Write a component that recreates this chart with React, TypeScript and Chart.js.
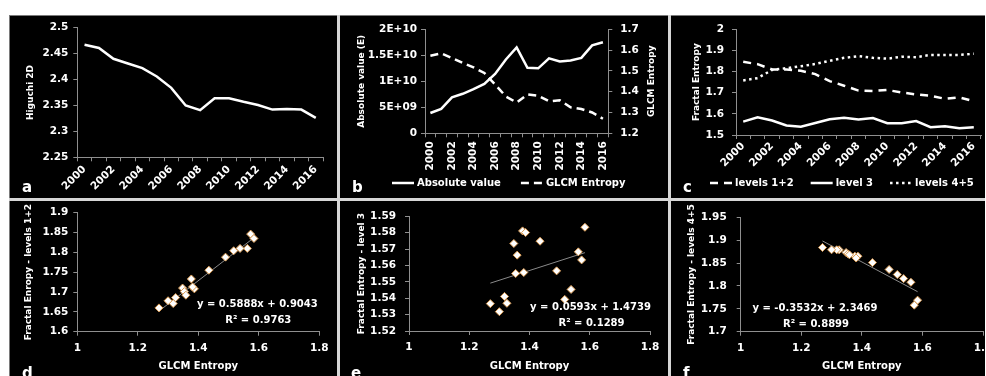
import React, { useEffect, useRef } from 'react';
import { Chart, registerables } from 'chart.js';

Chart.register(...registerables);

// ---------------- data ----------------
const years = ['2000', '2001', '2002', '2003', '2004', '2005', '2006', '2007', '2008', '2009', '2010', '2011', '2012', '2013', '2014', '2015', '2016'];
const higuchi2D = [2.467, 2.461, 2.44, 2.431, 2.422, 2.406, 2.384, 2.35, 2.341, 2.364, 2.364, 2.357, 2.351, 2.342, 2.343, 2.342, 2.326];
const absoluteValue = [3.9e9, 4.7e9, 6.9e9, 7.6e9, 8.5e9, 9.5e9, 1.14e10, 1.42e10, 1.65e10, 1.26e10, 1.25e10, 1.44e10, 1.38e10, 1.4e10, 1.45e10, 1.69e10, 1.75e10];
const glcmEntropy = [1.573, 1.584, 1.562, 1.538, 1.517, 1.49, 1.435, 1.377, 1.348, 1.387, 1.381, 1.354, 1.359, 1.325, 1.317, 1.3, 1.27];
const levels12 = [1.846, 1.835, 1.81, 1.81, 1.804, 1.788, 1.755, 1.733, 1.71, 1.708, 1.713, 1.701, 1.692, 1.686, 1.671, 1.678, 1.66];
const level3 = [1.5634, 1.5833, 1.5683, 1.5454, 1.5393, 1.5567, 1.5748, 1.5811, 1.5734, 1.5801, 1.5557, 1.5551, 1.5663, 1.5369, 1.5411, 1.5318, 1.5367];
const levels45 = [1.758, 1.769, 1.808, 1.816, 1.825, 1.836, 1.851, 1.865, 1.873, 1.865, 1.861, 1.87, 1.868, 1.879, 1.879, 1.879, 1.884];

const trendD = { slope: 0.5888, intercept: 0.9043, r2: '0.9763' };
const trendE = { slope: 0.0593, intercept: 1.4739, r2: '0.1289' };
const trendF = { slope: -0.3532, intercept: 2.3469, r2: '0.8899' };

// ---------------- style ----------------
const FONT = 'DejaVu Sans';
const WHITE = '#ffffff';
const AXIS = '#8f8f8f';
const tickFont = { family: FONT, size: 10.5, weight: 'bold' as const };
const yTitleFont = { family: FONT, size: 9, weight: 'bold' as const };
const xTitleFont = { family: FONT, size: 10, weight: 'bold' as const };

const fmtNum = (v: any) => String(Number(Number(v).toFixed(4)));
const sci = (v: any) => {
  const n = Number(v);
  if (n === 0) return '0';
  const e = Math.floor(Math.log10(n) + 1e-9);
  const m = Number((n / Math.pow(10, e)).toFixed(3));
  return `${m}E+${String(e).padStart(2, '0')}`;
};
const everyOther = (_v: any, i: number) => (i % 2 === 0 ? years[i] : '');

// free text (equations, right-hand axis title)
const textPlugin = {
  id: 'panelTexts',
  afterDraw(chart: any, _args: any, opts: any) {
    const items = (opts && opts.items) || [];
    const { ctx, chartArea } = chart;
    items.forEach((it: any) => {
      ctx.save();
      ctx.font = `bold ${it.size || 10}px "${FONT}"`;
      ctx.fillStyle = WHITE;
      ctx.textAlign = 'center';
      ctx.textBaseline = 'middle';
      const x = it.anchor === 'right' ? chartArea.right + it.dx : chartArea.left + it.dx;
      const y = it.dy == null ? (chartArea.top + chartArea.bottom) / 2 : chartArea.top + it.dy;
      ctx.translate(x, y);
      if (it.rotate) ctx.rotate(it.rotate);
      ctx.fillText(it.text, 0, 0);
      ctx.restore();
    });
  },
};

// legend drawn from the datasets (line samples with their dash styles)
const lineLegendPlugin = {
  id: 'lineLegend',
  afterDraw(chart: any, _args: any, opts: any) {
    if (!opts || opts.x == null) return;
    const { ctx } = chart;
    ctx.save();
    ctx.font = `bold 10px "${FONT}"`;
    ctx.textBaseline = 'middle';
    ctx.textAlign = 'left';
    let x = opts.x;
    const y = opts.y;
    chart.data.datasets.forEach((ds: any) => {
      ctx.strokeStyle = ds.borderColor;
      ctx.lineWidth = ds.borderWidth;
      ctx.setLineDash(ds.borderDash || []);
      ctx.beginPath();
      ctx.moveTo(x, y);
      ctx.lineTo(x + opts.sample, y);
      ctx.stroke();
      ctx.setLineDash([]);
      x += opts.sample + opts.textGap;
      ctx.fillStyle = WHITE;
      ctx.fillText(ds.label, x, y);
      x += ctx.measureText(ds.label).width + opts.itemGap;
    });
    ctx.restore();
  },
};

const gridOpts = (offset = false) => ({ offset, drawOnChartArea: false, drawTicks: true, tickLength: 4, color: AXIS });

function catX(height: number, rotation: number, padding: number) {
  return {
    type: 'category',
    offset: true,
    grid: gridOpts(true),
    border: { color: AXIS },
    ticks: { autoSkip: false, minRotation: rotation, maxRotation: rotation, padding, font: tickFont, color: WHITE, callback: everyOther },
    afterFit: (s: any) => { s.height = height; },
  };
}

function linY(min: number, max: number, step: number, width: number, padding: number, title: string | null, titlePad: number, position = 'left', cb: any = fmtNum) {
  return {
    type: 'linear',
    position,
    min,
    max,
    grid: gridOpts(false),
    border: { color: AXIS },
    ticks: { stepSize: step, padding, font: tickFont, color: WHITE, callback: cb },
    title: title ? { display: true, text: title, font: yTitleFont, color: WHITE, padding: { top: titlePad, bottom: 0 } } : { display: false },
    afterFit: (s: any) => { s.width = width; },
  };
}

const lineDs = (label: string, data: number[], dash: number[] = [], yAxisID = 'y') => ({
  label,
  data,
  yAxisID,
  borderColor: WHITE,
  backgroundColor: WHITE,
  borderWidth: 2.5,
  borderDash: dash,
  pointRadius: 0,
  tension: 0,
  fill: false,
});

const base = { responsive: false, animation: false, events: [] as any[] };

function configA() {
  return {
    type: 'line',
    data: { labels: years, datasets: [lineDs('Higuchi 2D', higuchi2D)] },
    options: {
      ...base,
      layout: { padding: { left: 0, right: 14, top: 12.7, bottom: 0 } },
      plugins: { legend: { display: false }, tooltip: { enabled: false } },
      scales: {
        x: catX(40.7, 45, 2),
        y: linY(2.25, 2.5, 0.05, 68.3, 5, 'Higuchi 2D', 16.6),
      },
    },
  };
}

function configB() {
  return {
    type: 'line',
    data: {
      labels: years,
      datasets: [lineDs('Absolute value', absoluteValue, [], 'y'), lineDs('GLCM Entropy', glcmEntropy, [8, 5], 'y1')],
    },
    options: {
      ...base,
      layout: { padding: { left: 0, right: 0, top: 12.7, bottom: 0 } },
      plugins: {
        legend: { display: false },
        tooltip: { enabled: false },
        panelTexts: { items: [{ text: 'GLCM Entropy', anchor: 'right', dx: 43.7, dy: null, rotate: -Math.PI / 2, size: 9 }] },
        lineLegend: { x: 52, y: 168, sample: 22, textGap: 3, itemGap: 20 },
      },
      scales: {
        x: catX(64.7, 90, 4),
        y: linY(0, 2e10, 5e9, 85, 4, 'Absolute value (E)', 16.6, 'left', sci),
        y1: linY(1.2, 1.7, 0.1, 59.7, 8, null, 0, 'right'),
      },
    },
    plugins: [textPlugin, lineLegendPlugin],
  };
}

function configC() {
  return {
    type: 'line',
    data: {
      labels: years,
      datasets: [lineDs('levels 1+2', levels12, [8, 6]), lineDs('level 3', level3), lineDs('levels 4+5', levels45, [2.5, 3.5])],
    },
    options: {
      ...base,
      layout: { padding: { left: 0, right: 4, top: 12.7, bottom: 0 } },
      plugins: {
        legend: { display: false },
        tooltip: { enabled: false },
        lineLegend: { x: 39, y: 168, sample: 22, textGap: 3, itemGap: 17 },
      },
      scales: {
        x: catX(63, 45, 1),
        y: linY(1.5, 2, 0.1, 65, 8, 'Fractal Entropy', 20.6),
      },
    },
    plugins: [lineLegendPlugin],
  };
}

function trendPoints(t: { slope: number; intercept: number }) {
  const lo = Math.min(...glcmEntropy);
  const hi = Math.max(...glcmEntropy);
  return [
    { x: lo, y: t.slope * lo + t.intercept },
    { x: hi, y: t.slope * hi + t.intercept },
  ];
}

function eqText(t: { slope: number; intercept: number }) {
  return `y = ${t.slope.toFixed(4)}x + ${t.intercept.toFixed(4)}`;
}

function configScatter(ys: number[], trend: any, yMin: number, yMax: number, yStep: number, yWidth: number, yPad: number, yTitle: string, titlePad: number, xHeight: number, padRight: number, eqDx: number) {
  return {
    type: 'scatter',
    data: {
      datasets: [
        {
          label: 'data',
          data: glcmEntropy.map((x, i) => ({ x, y: ys[i] })),
          pointStyle: 'rectRot',
          pointRadius: 4,
          backgroundColor: '#ffffff',
          borderColor: '#d99a52',
          borderWidth: 1,
        },
        {
          label: 'trend',
          data: trendPoints(trend),
          showLine: true,
          borderColor: '#8a8a8a',
          borderWidth: 1,
          pointRadius: 0,
        },
      ],
    },
    options: {
      ...base,
      layout: { padding: { left: 0, right: padRight, top: 11.7, bottom: 0 } },
      plugins: {
        legend: { display: false },
        tooltip: { enabled: false },
        panelTexts: {
          items: [
            { text: eqText(trend), dx: eqDx, dy: 91.3, size: 10 },
            { text: `R² = ${trend.r2}`, dx: eqDx + 1, dy: 107.3, size: 10 },
          ],
        },
      },
      scales: {
        x: {
          type: 'linear',
          min: 1,
          max: 1.8,
          grid: gridOpts(false),
          border: { color: AXIS },
          ticks: { stepSize: 0.2, padding: 6, font: tickFont, color: WHITE, callback: fmtNum },
          title: { display: true, text: 'GLCM Entropy', font: xTitleFont, color: WHITE, padding: { top: 0, bottom: 4 } },
          afterFit: (s: any) => { s.height = xHeight; },
        },
        y: linY(yMin, yMax, yStep, yWidth, yPad, yTitle, titlePad),
      },
    },
    plugins: [textPlugin],
  };
}

interface PanelDef {
  left: number;
  top: number;
  width: number;
  height: number;
  make: () => any;
}

const panels: PanelDef[] = [
  { left: 9, top: 15, width: 328, height: 183, make: configA },
  { left: 340, top: 15, width: 328, height: 183, make: configB },
  { left: 671, top: 15, width: 314, height: 183, make: configC },
  { left: 9, top: 201, width: 328, height: 175, make: () => configScatter(levels12, trendD, 1.6, 1.9, 0.05, 68.3, 5, 'Fractal Enropy - levels 1+2', 14.6, 44.3, 17.7, 180) },
  { left: 340, top: 201, width: 328, height: 175, make: () => configScatter(level3, trendE, 1.52, 1.59, 0.01, 69, 9, 'Fractal Entropy - level 3', 16.6, 45, 18, 181.5) },
  { left: 671, top: 201, width: 340, height: 175, make: () => configScatter(levels45, trendF, 1.7, 1.95, 0.05, 69.7, 10, 'Fractal Entropy - levels 4+5', 15.6, 44.3, 28, 74.3) },
];

const letters = [
  { t: 'a', left: 22, top: 180 },
  { t: 'b', left: 352, top: 180 },
  { t: 'c', left: 683, top: 180 },
  { t: 'd', left: 22, top: 366 },
  { t: 'e', left: 351, top: 366 },
  { t: 'f', left: 683, top: 366 },
];

export default function App() {
  const refs = useRef<(HTMLCanvasElement | null)[]>([]);

  useEffect(() => {
    const charts: Chart[] = [];
    panels.forEach((p, i) => {
      const c = refs.current[i];
      if (c) charts.push(new Chart(c, p.make() as any));
    });
    return () => charts.forEach((ch) => ch.destroy());
  }, []);

  const sep = '#d6d6d6';
  return (
    <div style={{ position: 'fixed', left: 0, top: 0, width: 986, height: 376, background: '#ffffff', overflow: 'hidden' }}>
      <div style={{ position: 'absolute', left: 9, top: 15, width: 976, height: 361, background: '#000', borderTop: '1px solid #7a7a7a', borderLeft: '1px solid #7a7a7a', boxSizing: 'border-box' }} />
      <div style={{ position: 'absolute', left: 337, top: 15, width: 3, height: 361, background: sep }} />
      <div style={{ position: 'absolute', left: 668, top: 15, width: 3, height: 361, background: sep }} />
      <div style={{ position: 'absolute', left: 9, top: 198, width: 976, height: 3, background: sep }} />
      {panels.map((p, i) => (
        <canvas
          key={i}
          ref={(el) => { refs.current[i] = el; }}
          width={p.width}
          height={p.height}
          style={{ position: 'absolute', left: p.left, top: p.top, width: p.width, height: p.height }}
        />
      ))}
      {letters.map((l) => (
        <div key={l.t} style={{ position: 'absolute', left: l.left, top: l.top, font: `bold 15px "${FONT}"`, lineHeight: '15px', color: '#fff' }}>{l.t}</div>
      ))}
    </div>
  );
}
